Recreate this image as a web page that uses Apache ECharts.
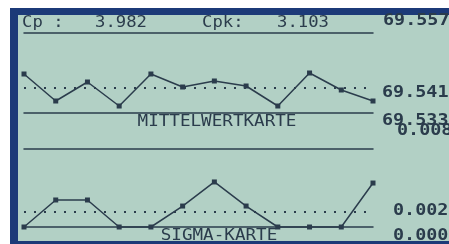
<!DOCTYPE html>
<html>
<head>
<meta charset="utf-8">
<script src="https://cdn.jsdelivr.net/npm/echarts@6/dist/echarts.min.js"></script>
<style>
    html, body {margin: 0; padding: 0; background: #ffffff;}
    #frame {position: absolute; left: 10px; top: 8px; width: 439px; height: 236px; background: #1c3a78;}
    #lcd {position: absolute; left: 18px; top: 15px; width: 431px; height: 226px; background: #b2d0c5;}
    #main {position: absolute; left: 0; top: 0; width: 449px; height: 244px;}
</style>
</head>
<body>
<div id="frame"></div>
<div id="lcd"></div>
<div id="main"></div>
<script>
// Stichproben 1..12
var samples = ['1', '2', '3', '4', '5', '6', '7', '8', '9', '10', '11', '12'];
// Mittelwertkarte
var meanValues = [69.5447, 69.5366, 69.5423, 69.5351, 69.5447, 69.5408, 69.5426, 69.5411, 69.5351, 69.5450, 69.5399, 69.5366];
var meanLimits = [69.557, 69.5405, 69.533];     // OEG, M, UEG
var meanLabels = ['69.557', '69.541', '69.533'];
// Sigma-Karte
var sigmaValues = [0, 0.00277, 0.00277, 0, 0, 0.00215, 0.00462, 0.00215, 0, 0, 0, 0.00451];
var sigmaLimits = [0.008, 0.0016, 0];
var sigmaLabels = ['0.008', '0.002', '0.000'];
// Kennwerte
var cpText = ['Cp :', '3.982', 'Cpk:', '3.103'];

var ink = '#2b3c4c';
var mono = 'DejaVu Sans Mono';

// Grenzlinien oben/unten = Achsenlinien, Mittellinie = markLine
function edgeAxis(grid, pos) {
    return {
        type: 'category', gridIndex: grid, data: samples, boundaryGap: false, position: pos,
        axisLine: {show: true, lineStyle: {color: ink, width: 1.5}},
        axisTick: {show: false}, axisLabel: {show: false}, splitLine: {show: false}
    }
}

function centerLine(v) {
    return {
        silent: true,
        precision: 6,   // sonst wird auf 2 Stellen gerundet
        symbol: ['none', 'none'],
        label: {show: false},
        animation: false,
        lineStyle: {color: ink, width: 2, type: [2, 8]},
        data: [{yAxis: v}]
    }
}

function txt(s, x, y, size, sx, align, weight) {
    return {
        type: 'text', x: x, y: y, scaleX: sx, z: 10,
        style: {
            text: s, font: (weight || 'normal') + ' ' + size + 'px "' + mono + '"',
            fill: ink, textAlign: align || 'left', textVerticalAlign: 'middle'
        }
    }
}

var chart = echarts.init(document.getElementById('main'));
chart.setOption({
    animation: false,
    grid: [
        {left: 24, top: 33, width: 349, height: 80},
        {left: 24, top: 149, width: 349, height: 78}
    ],
    xAxis: [
        edgeAxis(0, 'bottom'), edgeAxis(0, 'top'),
        edgeAxis(1, 'bottom'), edgeAxis(1, 'top')
    ],
    yAxis: [
        {type: 'value', gridIndex: 0, min: meanLimits[2], max: meanLimits[0], show: false, splitLine: {show: false}},
        {type: 'value', gridIndex: 1, min: sigmaLimits[2], max: sigmaLimits[0], show: false, splitLine: {show: false}}
    ],
    series: [
        {
            type: 'line', xAxisIndex: 0, yAxisIndex: 0, data: meanValues, clip: false, z: 5,
            symbol: 'rect', symbolSize: 5, showAllSymbol: true,
            itemStyle: {color: ink}, lineStyle: {color: ink, width: 1.5},
            markLine: centerLine(meanLimits[1])
        },
        {
            type: 'line', xAxisIndex: 2, yAxisIndex: 1, data: sigmaValues, clip: false, z: 5,
            symbol: 'rect', symbolSize: 5, showAllSymbol: true,
            itemStyle: {color: ink}, lineStyle: {color: ink, width: 1.5},
            markLine: centerLine(sigmaLimits[1])
        }
    ],
    graphic: [
        txt(cpText[0], 22, 23, 15, 1.15),
        txt(cpText[1], 95, 23, 15, 1.15),
        txt(cpText[2], 202, 23, 15, 1.15),
        txt(cpText[3], 277, 23, 15, 1.15),
        txt(meanLabels[0], 383, 21, 16, 1.15, 'left', 'bold'),
        txt(meanLabels[1], 382, 93, 16, 1.15, 'left', 'bold'),
        txt(meanLabels[2], 382, 121, 16, 1.15, 'left', 'bold'),
        txt(sigmaLabels[0], 397, 131, 16, 1.15, 'left', 'bold'),
        txt(sigmaLabels[1], 393, 211, 16, 1.15, 'left', 'bold'),
        txt(sigmaLabels[2], 393, 236, 16, 1.15, 'left', 'bold'),
        txt('MITTELWERTKARTE', 217, 122, 16, 1.1, 'center'),
        txt('SIGMA-KARTE', 219, 236, 16, 1.1, 'center')
    ]
});
</script>
</body>
</html>
